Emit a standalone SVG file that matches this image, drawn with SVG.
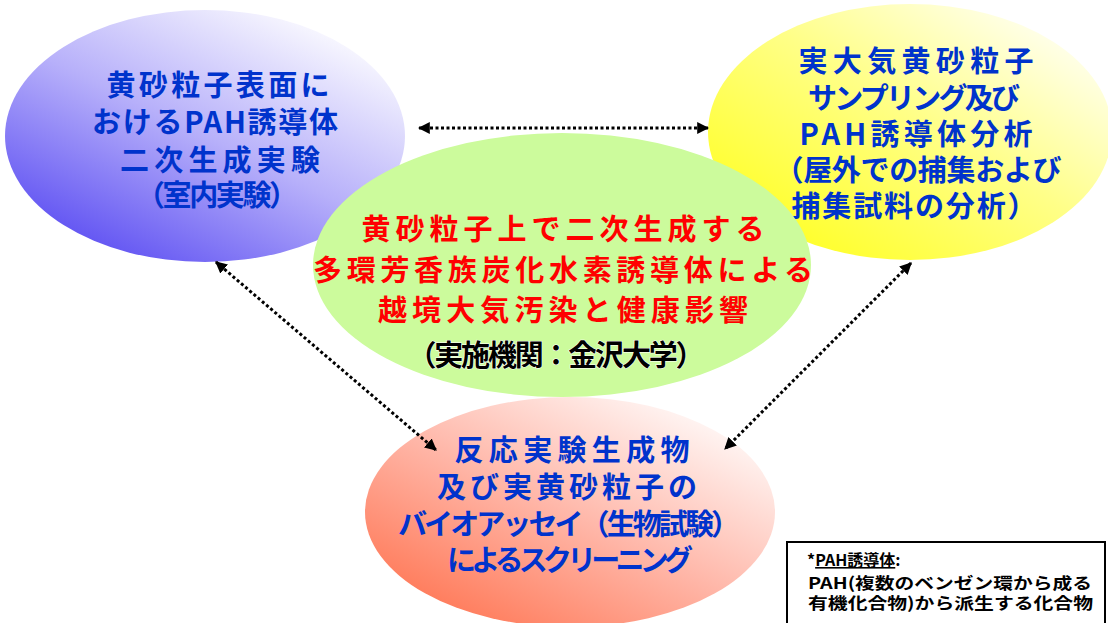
<svg xmlns="http://www.w3.org/2000/svg" width="1108" height="623" viewBox="0 0 1108 623">
<style>
.t{font-family:"Noto Sans CJK JP","Noto Sans CJK SC",sans-serif;font-weight:bold;font-size:29px;text-anchor:middle;lengthAdjust:spacing}
.b{fill:#0033cc}
.r{fill:#ff0000}
.k{fill:#000000}
.lg{font-family:"Noto Sans CJK JP",sans-serif;font-weight:bold;font-size:16px;fill:#000}
.c{fill:none;stroke:#000;stroke-width:3;stroke-dasharray:3 2.5;marker-start:url(#ah);marker-end:url(#ah)}
</style>
<defs>
<linearGradient id="gb" x1="0.15" y1="0.95" x2="0.85" y2="0.05">
<stop offset="0" stop-color="#5a4cf2"/><stop offset="0.5" stop-color="#b7b0fa"/><stop offset="1" stop-color="#ffffff"/>
</linearGradient>
<linearGradient id="gy" x1="0.1" y1="0.9" x2="0.9" y2="0.1">
<stop offset="0" stop-color="#ffff22"/><stop offset="0.55" stop-color="#ffff88"/><stop offset="1" stop-color="#fffff4"/>
</linearGradient>
<linearGradient id="gp" x1="0.1" y1="0.95" x2="0.9" y2="0.05">
<stop offset="0" stop-color="#ff7350"/><stop offset="0.5" stop-color="#ffb8aa"/><stop offset="1" stop-color="#ffffff"/>
</linearGradient>
<marker id="ah" viewBox="0 0 10 10" refX="9" refY="5" markerWidth="4" markerHeight="4" orient="auto-start-reverse" markerUnits="strokeWidth">
<path d="M0,0 L10,5 L0,10 z" fill="#000"/>
</marker>
</defs>
<rect width="1108" height="623" fill="#fff"/>
<g id="node-blue">
<ellipse cx="205" cy="136" rx="200" ry="126" fill="url(#gb)"/>
<text class="t b" x="218" y="96" textLength="223">黄砂粒子表面に</text>
<text class="t b" x="215" y="133" textLength="246">おけるPAH誘導体</text>
<text class="t b" x="220" y="171" textLength="200">二次生成実験</text>
<text class="t b" x="217" y="206" textLength="162">（室内実験）</text>
</g>
<g id="node-yellow">
<ellipse cx="910" cy="132" rx="202" ry="128" fill="url(#gy)"/>
<text class="t b" x="916" y="72" textLength="235">実大気黄砂粒子</text>
<text class="t b" x="914" y="109" textLength="212">サンプリング及び</text>
<text class="t b" x="916" y="145" textLength="233">PAH誘導体分析</text>
<text class="t b" x="918" y="181" textLength="287">（屋外での捕集および</text>
<text class="t b" x="914" y="217" textLength="245">捕集試料の分析）</text>
</g>
<g id="node-pink">
<ellipse cx="570" cy="512" rx="205" ry="115" fill="url(#gp)"/>
<text class="t b" x="572" y="461" textLength="235">反応実験生成物</text>
<text class="t b" x="567" y="498" textLength="260">及び実黄砂粒子の</text>
<text class="t b" x="569" y="535" textLength="342">バイオアッセイ（生物試験）</text>
<text class="t b" x="570" y="571" textLength="246">によるスクリーニング</text>
</g>
<g id="node-green">
<ellipse cx="562" cy="265" rx="249" ry="132" fill="#ccfb9c"/>
<text class="t r" x="563" y="240" textLength="403">黄砂粒子上で二次生成する</text>
<text class="t r" x="563" y="281" textLength="500">多環芳香族炭化水素誘導体による</text>
<text class="t r" x="563" y="321" textLength="370">越境大気汚染と健康影響</text>
<text class="t k" x="556" y="366" font-size="26" textLength="297" stroke="#fff" stroke-width="1" paint-order="stroke">（実施機関：金沢大学）</text>
</g>
<g id="connectors">
<line class="c" x1="419" y1="128" x2="708" y2="128"/>
<line class="c" x1="216" y1="262" x2="436" y2="450"/>
<line class="c" x1="911" y1="263" x2="725" y2="449"/>
</g>
<g id="legend">
<rect x="787" y="542" width="318" height="90" fill="#fff" stroke="#000" stroke-width="2"/>
<text class="lg" x="807" y="566">*<tspan text-decoration="underline">PAH誘導体</tspan>:</text>
<text class="lg" x="808" y="589" textLength="284" lengthAdjust="spacingAndGlyphs">PAH(複数のベンゼン環から成る</text>
<text class="lg" x="808" y="609" textLength="285" lengthAdjust="spacingAndGlyphs">有機化合物)から派生する化合物</text>
</g>
</svg>
